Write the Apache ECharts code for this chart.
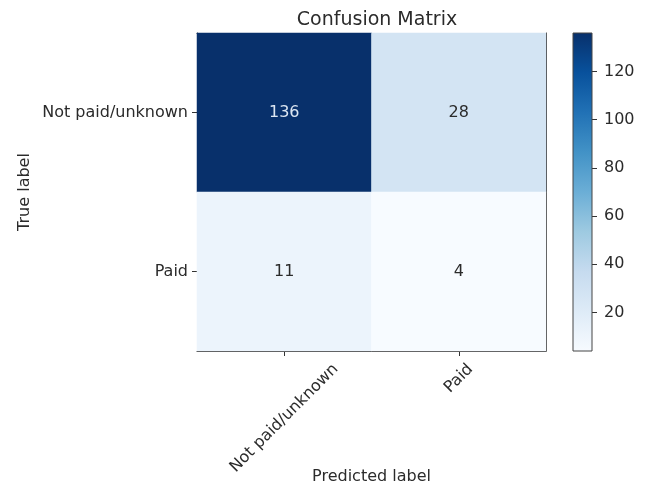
<!DOCTYPE html>
<html>
<head>
<meta charset="utf-8">
<script src="https://cdn.jsdelivr.net/npm/echarts@6/dist/echarts.min.js"></script>
<style>
  html, body { margin: 0; padding: 0; background: #fff; }
  #chart { width: 646px; height: 486px; }
</style>
</head>
<body>
<div id="chart"></div>
<script>
// Class names on both axes
const predictedLabels = ['Not paid/unknown', 'Paid'];
const trueLabels = ['Not paid/unknown', 'Paid'];
// Counts: rows = true label, columns = predicted label
const countsNotPaid = [136, 28];
const countsPaid = [11, 4];
// Colour bar ticks
const colorbarTicks = [20, 40, 60, 80, 100, 120];

// matplotlib "Blues" colormap stops, low -> high
const blues = ['#f7fbff', '#deebf7', '#c6dbef', '#9ecae1', '#6baed6',
               '#4292c6', '#2171b5', '#08519c', '#08306b'];

const rows = [countsNotPaid, countsPaid];
const cells = [];
rows.forEach((row, r) => row.forEach((v, c) => cells.push([c, r, v])));
const allValues = cells.map(d => d[2]);
const vMin = Math.min(...allValues);
const vMax = Math.max(...allValues);
const threshold = (vMin + vMax) / 2;

const font = 'DejaVu Sans';
const textColor = '#2b2b2b';
const fs = 16;

// Rotated x labels are centred horizontally under their tick (matplotlib style):
// each label gets its own rich style whose padding pushes the rotated box down
// so that its top sits just below the tick.
const measureCtx = document.createElement('canvas').getContext('2d');
measureCtx.font = fs + 'px "' + font + '"';
const xRich = {};
predictedLabels.forEach((name, i) => {
  const w = measureCtx.measureText(name).width;
  const boxH = (w + fs) * Math.SQRT1_2;
  const d = boxH / 2 + 10;
  const p = Math.round(d * Math.SQRT2);
  xRich['c' + i] = {
    fontFamily: font, fontSize: fs, color: textColor,
    padding: [p, p, 0, 0]
  };
});

const chart = echarts.init(document.getElementById('chart'));
chart.setOption({
  animation: false,
  backgroundColor: '#fff',
  textStyle: { fontFamily: font },
  title: {
    text: 'Confusion Matrix',
    left: 372, top: 6, textAlign: 'center',
    textStyle: { fontFamily: font, fontSize: 19, fontWeight: 'normal', color: textColor }
  },
  grid: [
    { left: 197, top: 33, width: 349, height: 318, outerBoundsMode: 'none', containLabel: false },
    { left: 573, top: 33, width: 19, height: 318, outerBoundsMode: 'none', containLabel: false }
  ],
  visualMap: {
    show: false, min: vMin, max: vMax, seriesIndex: 0, dimension: 2,
    inRange: { color: blues }
  },
  xAxis: [
    {
      type: 'category', data: predictedLabels, gridIndex: 0,
      name: 'Predicted label', nameLocation: 'middle', nameGap: 118, nameMoveOverlap: false,
      nameTextStyle: { fontFamily: font, fontSize: fs, color: textColor },
      axisLine: { show: true, lineStyle: { color: '#333', width: 1 } },
      axisTick: { show: true, alignWithLabel: true, length: 5, lineStyle: { color: '#333' } },
      axisLabel: {
        rotate: 45, align: 'center', verticalAlign: 'middle', margin: 0,
        hideOverlap: false, interval: 0,
        formatter: (value, idx) => '{c' + idx + '|' + value + '}',
        rich: xRich
      },
      splitLine: { show: false }
    },
    {
      type: 'category', data: predictedLabels, gridIndex: 0, position: 'top',
      axisLine: { show: true, lineStyle: { color: '#333', width: 1 } },
      axisTick: { show: false }, axisLabel: { show: false }
    },
    {
      type: 'category', data: [''], gridIndex: 1, show: false
    }
  ],
  yAxis: [
    {
      type: 'category', data: trueLabels, gridIndex: 0, inverse: true,
      name: 'True label', nameLocation: 'middle', nameGap: 164, nameRotate: 90, nameMoveOverlap: false,
      nameTextStyle: { fontFamily: font, fontSize: fs, color: textColor },
      axisLine: { show: true, lineStyle: { color: '#333', width: 1 } },
      axisTick: { show: true, alignWithLabel: true, length: 5, lineStyle: { color: '#333' } },
      axisLabel: { fontFamily: font, fontSize: fs, color: textColor, margin: 9 },
      splitLine: { show: false }
    },
    {
      type: 'category', data: trueLabels, gridIndex: 0, inverse: true, position: 'right',
      axisLine: { show: true, lineStyle: { color: '#333', width: 1 } },
      axisTick: { show: false }, axisLabel: { show: false }
    },
    {
      type: 'value', gridIndex: 1, position: 'right', min: vMin, max: vMax,
      axisLine: { show: false },
      axisTick: { show: true, length: 5, customValues: colorbarTicks, lineStyle: { color: '#333' } },
      axisLabel: { customValues: colorbarTicks, fontFamily: font, fontSize: fs, color: textColor, margin: 12 },
      splitLine: { show: false }
    }
  ],
  series: [
    {
      type: 'heatmap', xAxisIndex: 0, yAxisIndex: 0,
      data: cells.map(d => ({
        value: d,
        label: { color: d[2] > threshold ? '#dce6f2' : textColor }
      })),
      label: {
        show: true, fontFamily: font, fontSize: fs,
        formatter: p => String(p.value[2])
      },
      itemStyle: { borderWidth: 0 },
      emphasis: { disabled: true }
    },
    {
      // colour bar: one gradient rectangle spanning the value range
      type: 'custom', xAxisIndex: 2, yAxisIndex: 2, silent: true,
      data: [[0, vMin, vMax]],
      renderItem: (params, api) => {
        const top = api.coord([0, api.value(2)]);
        const bottom = api.coord([0, api.value(1)]);
        const cs = params.coordSys;
        const stops = blues.map((c, i) => ({ offset: 1 - i / (blues.length - 1), color: c }));
        return {
          type: 'rect',
          shape: { x: cs.x, y: top[1], width: cs.width, height: bottom[1] - top[1] },
          style: {
            fill: new echarts.graphic.LinearGradient(0, 0, 0, 1, stops),
            stroke: '#444', lineWidth: 1
          }
        };
      }
    }
  ]
});
</script>
</body>
</html>
